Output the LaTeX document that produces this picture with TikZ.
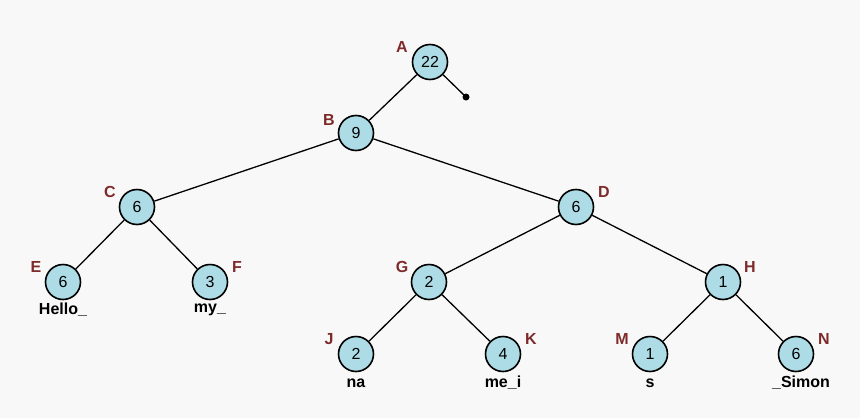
\documentclass[tikz,border=0pt]{standalone}
\usepackage{fontspec}
\setmainfont{Liberation Sans}
\definecolor{bg}{HTML}{F8F8F8}
\definecolor{nodefill}{HTML}{ADDCE6}
\definecolor{lab}{HTML}{7F2A2A}
\begin{document}
\begin{tikzpicture}[x=1pt,y=-1pt,
  nd/.style={circle,draw=black,line width=1.6pt,fill=nodefill,minimum size=35pt,inner sep=0pt,font=\fontsize{16}{16}\selectfont},
  lb/.style={text=lab,font=\fontsize{16}{16}\selectfont\bfseries},
  tx/.style={font=\fontsize{16}{16}\selectfont\bfseries},
  ed/.style={line width=1.3pt}]
\fill[bg] (0,0) rectangle (860,418);
\useasboundingbox (0,0) rectangle (860,418);
\coordinate (dot) at (466,97);
\node[nd] (A) at (430,62) {22};
\node[nd] (B) at (356,133) {9};
\node[nd] (C) at (137,207) {6};
\node[nd] (D) at (576,207) {6};
\node[nd] (E) at (63,282) {6};
\node[nd] (F) at (210,282) {3};
\node[nd] (G) at (429,282) {2};
\node[nd] (H) at (723,282) {1};
\node[nd] (J) at (356,354) {2};
\node[nd] (K) at (503,354) {4};
\node[nd] (M) at (650,354) {1};
\node[nd] (N) at (796,354) {6};
\begin{scope}[on background layer/.style={}]
\end{scope}
\draw[ed] (A) -- (B);
\draw[ed] (A) -- (dot);
\fill (dot) circle (3.5pt);
\draw[ed] (B) -- (C);
\draw[ed] (B) -- (D);
\draw[ed] (C) -- (E);
\draw[ed] (C) -- (F);
\draw[ed] (D) -- (G);
\draw[ed] (D) -- (H);
\draw[ed] (G) -- (J);
\draw[ed] (G) -- (K);
\draw[ed] (H) -- (M);
\draw[ed] (H) -- (N);
\node[lb] (lA) at (402,47) {A};
\node[lb] (lB) at (329,120) {B};
\node[lb] (lC) at (110,192) {C};
\node[lb] (lD) at (604,192) {D};
\node[lb] (lE) at (36,267) {E};
\node[lb] (lF) at (237,267) {F};
\node[lb] (lG) at (402,267) {G};
\node[lb] (lH) at (750,267) {H};
\node[lb] (lJ) at (329,339) {J};
\node[lb] (lK) at (531,339) {K};
\node[lb] (lM) at (622,339) {M};
\node[lb] (lN) at (824,339) {N};
\node[tx] (tE) at (63,310) {Hello\_};
\node[tx] (tF) at (210,310) {my\_};
\node[tx] (tJ) at (356,383) {na};
\node[tx] (tK) at (503,383) {me\_i};
\node[tx] (tM) at (650,383) {s};
\node[tx] (tN) at (801,383) {\_Simon};
\end{tikzpicture}
\end{document}
